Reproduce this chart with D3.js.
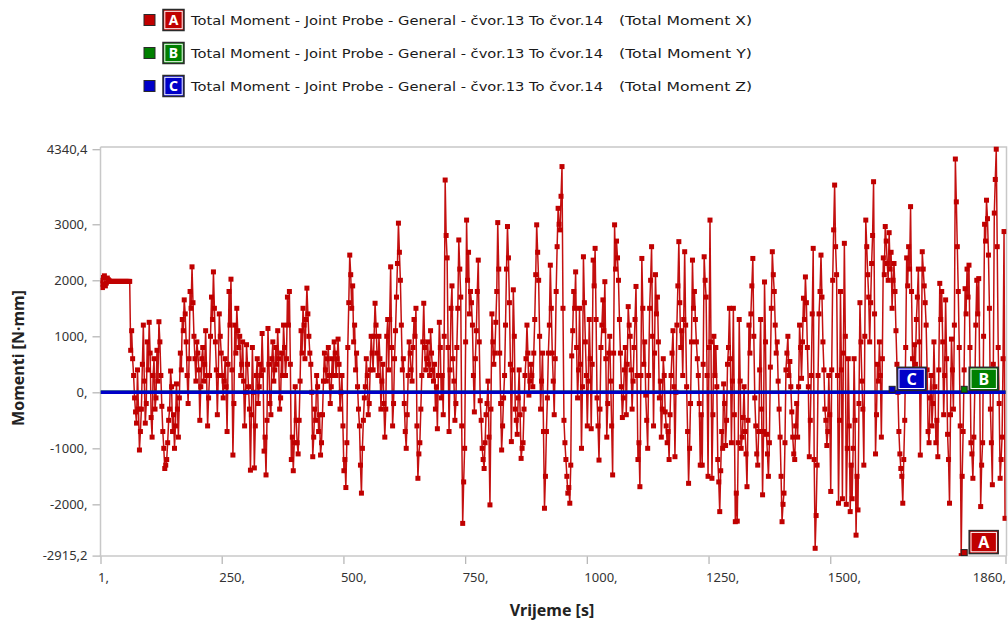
<!DOCTYPE html>
<html>
<head>
<meta charset="utf-8">
<script src="https://cdn.jsdelivr.net/npm/d3@7"></script>
<style>
  body { margin: 0; background: #fff; }
  svg { display: block; font-family: "Noto Sans", "DejaVu Sans", sans-serif; }
</style>
</head>
<body>
<svg id="chart" width="1008" height="626"></svg>
<script>
// ---- series description ----
const seriesNames = [
  "Total Moment - Joint Probe - General - čvor.13 To čvor.14",
  "Total Moment - Joint Probe - General - čvor.13 To čvor.14",
  "Total Moment - Joint Probe - General - čvor.13 To čvor.14"
];
const seriesComponents = ["(Total Moment X)", "(Total Moment Y)", "(Total Moment Z)"];
const seriesLetters = ["A", "B", "C"];
const seriesColors = ["#c00000", "#008000", "#0000c8"];

// ---- axes ----
const yTicks = [-2915.2, -2000, -1000, 0, 1000, 2000, 3000, 4340.4];
const yTickLabels = ["-2915,2", "-2000,", "-1000,", "0,", "1000,", "2000,", "3000,", "4340,4"];
const xTicks = [1, 250, 500, 750, 1000, 1250, 1500, 1860];
const xTickLabels = ["1,", "250,", "500,", "750,", "1000,", "1250,", "1500,", "1860,"];

// ---- moment X [N·mm], one sample every 2 s starting at t = 1 s ----
const sampleStart = 1, sampleStep = 2;
const momentX = [
  2000,1930,1870,2050,2080,1900,1950,2040,2010,1990,
  1980,1980,1980,1980,1980,1980,1980,1980,1980,1980,1980,1980,1980,1980,1980,1980,1980,1980,1980,1980,1980,750,
  1100,600,300,-100,-350,-550,400,-300,-1030,-700,
  -300,500,1200,200,-550,-200,900,400,1250,700,
  -450,-800,300,600,-300,-100,750,200,1260,900,
  300,-250,-700,-1000,-1360,-1300,-1200,-900,-500,-300,
  380,100,-700,-400,-1000,-600,150,-300,-800,-100,
  700,400,1300,1100,1650,1400,900,300,-200,600,
  1800,1500,2240,1600,1000,600,200,900,700,400,
  -500,100,600,800,200,500,1100,300,-600,-100,
  300,1000,1700,1300,2150,1500,900,400,-400,300,
  1400,1000,700,300,-100,200,600,100,-700,500,
  1800,1200,2020,400,-1120,-200,1200,700,1500,1100,
  800,1000,300,500,900,200,-600,0,850,500,
  100,-300,-1390,-400,
  800,0,-1350,-600,300,600,-200,100,500,300,
  1050,400,-1050,-800,-1475,-500,1140,500,-200,-400,
  600,900,200,400,800,500,1100,600,-300,-100,
  700,300,1200,800,300,600,1700,1200,1800,500,
  -1200,-800,-1400,-900,100,-500,-900,-1100,-500,200,
  1100,700,1500,1200,600,1300,1860,1400,1000,700,
  500,0,-1150,-800,-300,-500,300,100,-700,-400,
  -1120,-900,-400,200,700,400,200,600,800,300,
  -200,100,600,300,900,700,300,600,950,500,
  -300,0,300,-600,-1400,-1200,-1700,-900,800,1600,
  2450,2100,1500,1900,900,1200,400,700,100,-300,
  -600,-1300,-1800,-1000,-500,-100,100,600,300,-400,
  -200,400,1000,700,400,1000,1590,1200,700,300,
  1000,600,-300,200,500,-200,-800,-300,1000,1300,
  400,1300,2240,800,-600,-200,600,1100,1700,2300,
  3020,2500,2000,1200,
  400,600,-200,-700,-1000,-400,300,900,700,400,
  200,800,1300,1000,1500,-600,-1535,-1100,-900,-300,
  300,900,1590,800,400,600,900,500,300,1100,
  700,400,200,500,-300,100,-650,300,1250,800,
  -100,300,-400,1000,3790,2800,2400,800,-700,400,
  1500,1900,600,200,-500,-200,800,1500,2720,2200,
  1700,-600,-2340,-1600,-1000,900,3075,2000,2500,1400,
  1800,1600,1200,300,-350,600,1100,1800,2360,900,
  -150,-500,-1000,-1200,-1360,-900,-400,-200,200,-800,
  -2010,-300,1400,900,500,700,1250,1800,3030,2200,
  700,-200,-1030,-600,-100,300,1200,2200,2960,2400,
  1600,500,-880,400,1830,1000,-300,-500,-750,-100,
  400,-400,-1180,-1000,-900,-300,300,600,1200,700,
  -50,200,500,300,100,700,1300,2100,2990,2500,
  2000,1000,-300,200,700,-700,-2070,-1500,-700,-100,
  700,1200,2270,1500,
  700,200,-400,600,1800,2600,3285,3000,2900,3500,
  4030,1500,-500,-900,-1200,-1500,-1800,-1700,-1980,-1300,
  650,1100,1800,1500,2150,800,-100,400,1500,500,
  -1000,100,2420,1600,900,300,-600,200,1300,600,
  -650,500,2360,1900,2570,1300,-100,-600,-1210,-300,
  800,1200,1650,1100,1975,600,-800,-200,700,1000,
  200,-600,-1475,700,2990,2200,2700,2400,2000,1300,
  700,100,-450,-100,400,800,-400,500,1530,1200,
  1000,400,-300,200,800,1300,1890,300,-1200,-900,
  -1685,300,2390,1500,500,900,-50,-500,-1000,300,
  1500,2000,2600,1000,-600,700,2100,1400,1700,900,
  -100,200,-800,-300,600,300,-350,-600,-900,-700,
  -1200,-400,300,700,1100,100,-1150,0,1200,1900,
  2690,1600,800,1100,300,1300,2510,1200,100,-700,
  -1625,-1000,-200,900,2360,1500,1800,1300,900,600,
  300,-200,-1300,-400,
  -1300,500,2420,2000,1700,300,-1500,800,3075,900,
  -1535,-400,1000,300,800,100,-1200,-1600,-2130,-1400,
  -700,-1000,150,-200,-950,-500,500,800,1500,600,
  -900,200,1500,-400,-2310,-1800,-2300,-900,1300,200,
  -1000,-800,-450,100,-700,-1100,-1685,-500,1200,700,
  1400,1900,2390,1000,-100,-600,-1100,-1300,-700,400,
  1300,-300,-1830,-700,1970,900,-750,-1100,-1500,-900,
  450,1500,2510,2100,1800,1200,700,900,200,-300,
  -800,-1500,-2310,-2000,-1800,-900,400,700,1000,300,
  550,100,-350,-800,-1100,-1200,-600,-200,-800,100,
  1200,800,250,900,1680,1300,2060,1600,800,100,
  -1150,-500,300,1400,2570,-1200,-2785,-2200,-1300,300,
  1400,1800,2450,1700,900,400,-300,-500,-950,-700,
  300,-400,-1770,400,2000,2900,3700,2600,2100,300,
  -1980,-500,1800,400,-1900,700,2660,1000,-2000,-1000,
  600,-600,-2130,-1300,
  -1900,-1000,600,-500,-2550,-1500,-2100,-200,1600,900,
  200,-300,-1300,1000,3075,2600,2100,1700,900,1600,
  2300,2800,3760,1400,-1100,-400,500,200,900,300,
  -800,600,2400,2100,2960,2700,2300,2000,2850,2200,
  2500,1500,2000,2300,1800,1100,500,0,-700,-1100,
  -1360,-1500,-1980,-1200,-500,800,2400,1900,2600,2200,
  3315,1800,600,200,850,500,1300,1700,2200,900,
  -1120,300,2510,2200,1900,1600,1200,400,-700,-900,
  -100,300,-600,-200,900,100,-900,-500,-1150,400,
  1945,1300,1800,900,-400,300,1650,600,-750,-1200,
  -1980,-400,950,400,-300,1200,4165,3400,2600,1800,
  800,-600,-2915.2,-1500,-700,400,1850,1400,2200,1700,
  2270,800,-900,-1100,-1535,-800,100,1200,2000,1400,
  2030,300,-2040,-1300,-900,1000,3000,2700,3430,3100,
  2450,1500,-300,-900,-1650,500,3200,3800,4340.4,2600,
  800,-200,-1535,-1200,-800,600,2870,-2250
];
// Y and Z components stay at zero for the whole run
const flatTimes = [1, 1860];
const momentY = [0, 0];
const momentZ = [0, 0];

// probe labels placed on each series
const labelTimes = [1769, 1769, 1621];
const labelValues = [-2915.2, 0, 0];

// ---- drawing ----
const svg = d3.select("#chart");
const plot = { left: 100.5, right: 1006.5, top: 147, bottom: 556 };

const x = d3.scaleLinear().domain([1, 1860]).range([100.5, 1005.5]);
const y = d3.scaleLinear().domain([-2915.2, 4340.4]).range([555.6, 149.2]);

const timesX = momentX.map((_, i) => sampleStart + sampleStep * i);

svg.append("defs").append("clipPath").attr("id", "plotClip")
  .append("rect")
  .attr("x", plot.left).attr("y", plot.top - 1)
  .attr("width", plot.right - plot.left).attr("height", plot.bottom - plot.top + 1);

// frame (top and right edges)
const frameColor = "#c8c8c8";
svg.append("path")
  .attr("d", `M${plot.left},${plot.top}H${plot.right}V${plot.bottom}`)
  .attr("fill", "none").attr("stroke", frameColor).attr("stroke-width", 1.5);

// axes
const yAxis = d3.axisLeft(y).tickValues(yTicks)
  .tickFormat((d, i) => yTickLabels[i]).tickSize(8).tickPadding(5);
const gy = svg.append("g").attr("transform", `translate(${plot.left},0)`).call(yAxis);
gy.select(".domain").remove();
gy.append("line").attr("x1", 0).attr("x2", 0).attr("y1", plot.top).attr("y2", plot.bottom)
  .attr("stroke", frameColor).attr("stroke-width", 1.5);
gy.selectAll(".tick line").attr("stroke", "#b8b8b8").attr("stroke-width", 1.3);
gy.selectAll(".tick text").attr("fill", "#333").attr("font-size", 13)
  .attr("font-family", "'Noto Sans', sans-serif");

const xAxis = d3.axisBottom(x).tickValues(xTicks)
  .tickFormat((d, i) => xTickLabels[i]).tickSize(8).tickPadding(9);
const gx = svg.append("g").attr("transform", `translate(0,${plot.bottom})`).call(xAxis);
gx.select(".domain").remove();
gx.append("line").attr("x1", plot.left - 1).attr("x2", plot.right).attr("y1", 0).attr("y2", 0)
  .attr("stroke", frameColor).attr("stroke-width", 1.5);
gx.selectAll(".tick line").attr("stroke", "#b8b8b8").attr("stroke-width", 1.3);
gx.selectAll(".tick text").attr("fill", "#333").attr("font-size", 13)
  .attr("font-family", "'Noto Sans', sans-serif")
  .attr("text-anchor", (d, i) => i === xTicks.length - 1 ? "end" : "start")
  .attr("dx", (d, i) => i === xTicks.length - 1 ? 0 : -3);

// axis titles
svg.append("text").attr("x", 552).attr("y", 616).attr("text-anchor", "middle")
  .attr("font-weight", "bold").attr("font-size", 16).attr("fill", "#222")
  .text("Vrijeme [s]");
svg.append("text").attr("transform", "translate(24,358) rotate(-90)").attr("text-anchor", "middle")
  .attr("font-weight", "bold").attr("font-size", 16).attr("fill", "#222")
  .text("Momenti [N·mm]");

// series
const dataArea = svg.append("g").attr("clip-path", "url(#plotClip)");
const line = d3.line().x(d => x(d[0])).y(d => y(d[1]));

const ptsX = timesX.map((t, i) => [t, momentX[i]]);
dataArea.append("path").datum(ptsX).attr("d", line)
  .attr("fill", "none").attr("stroke", "#c41010").attr("stroke-width", 1.5)
  .attr("stroke-linejoin", "round");
dataArea.append("g").selectAll("rect").data(ptsX).join("rect")
  .attr("x", d => x(d[0]) - 2.5).attr("y", d => y(d[1]) - 2.5)
  .attr("width", 5).attr("height", 5).attr("fill", seriesColors[0]);

dataArea.append("path").datum(flatTimes.map((t, i) => [t, momentY[i]])).attr("d", line)
  .attr("fill", "none").attr("stroke", seriesColors[1]).attr("stroke-width", 3.5);
dataArea.append("path").datum(flatTimes.map((t, i) => [t, momentZ[i]])).attr("d", line)
  .attr("fill", "none").attr("stroke", seriesColors[2]).attr("stroke-width", 3.5);

// letter badge helper
function badge(g, cx, cy, w, h, color, letter, fs) {
  g.append("rect").attr("x", cx - w / 2).attr("y", cy - h / 2).attr("width", w).attr("height", h)
    .attr("fill", color).attr("stroke", "#2a2a2a").attr("stroke-width", 1.5);
  g.append("rect").attr("x", cx - w / 2 + 1.8).attr("y", cy - h / 2 + 1.8)
    .attr("width", w - 3.6).attr("height", h - 3.6)
    .attr("fill", "none").attr("stroke", "#fff").attr("stroke-width", 1);
  g.append("text").attr("x", cx).attr("y", cy).attr("dy", "0.36em").attr("text-anchor", "middle")
    .attr("fill", "#fff").attr("font-size", fs).attr("font-weight", "bold").text(letter);
}

// probe labels on the plot
const labelLayer = svg.append("g");
labelTimes.forEach((t, i) => {
  const px = x(t), py = y(labelValues[i]);
  labelLayer.append("rect").attr("x", px).attr("y", py - 6).attr("width", 6).attr("height", 6)
    .attr("fill", seriesColors[i]).attr("stroke", "#222").attr("stroke-width", 1);
  badge(labelLayer, px + 22.5, py - 13.5, 29, 23, seriesColors[i], seriesLetters[i], 16);
});

// legend
const legendRows = [20, 53, 86];
const legendFont = "'DejaVu Sans', 'Noto Sans', sans-serif";
const legend = svg.append("g");
seriesNames.forEach((name, i) => {
  const cy = legendRows[i];
  legend.append("rect").attr("x", 144).attr("y", cy - 5.5).attr("width", 11).attr("height", 11)
    .attr("fill", seriesColors[i]).attr("stroke", "#2a2a2a").attr("stroke-width", 1);
  badge(legend, 173.5, cy, 21, 21, seriesColors[i], seriesLetters[i], 14);
  legend.append("text").attr("x", 191).attr("y", cy).attr("dy", "0.36em")
    .attr("font-family", legendFont).attr("font-size", 13).attr("fill", "#1a1a1a")
    .attr("textLength", 412).attr("lengthAdjust", "spacingAndGlyphs").text(name);
  legend.append("text").attr("x", 619).attr("y", cy).attr("dy", "0.36em")
    .attr("font-family", legendFont).attr("font-size", 13).attr("fill", "#1a1a1a")
    .attr("textLength", 133).attr("lengthAdjust", "spacingAndGlyphs").text(seriesComponents[i]);
});
</script>
</body>
</html>
